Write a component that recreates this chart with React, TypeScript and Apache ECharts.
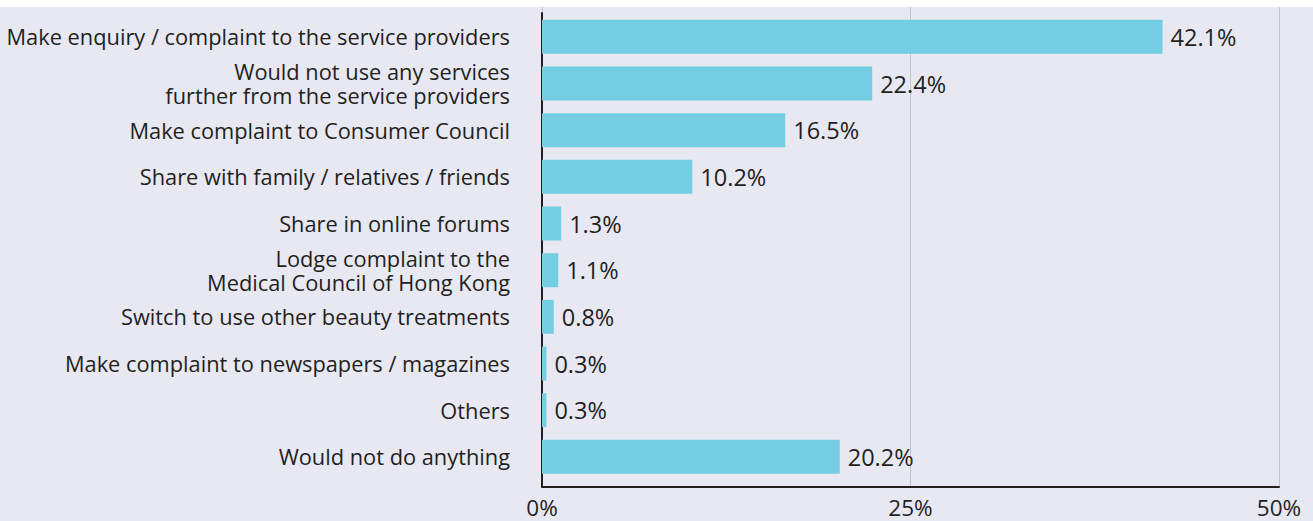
import React, { useEffect, useRef } from "react";
import * as echarts from "echarts";

const categories = [
  "Make enquiry / complaint to the service providers",
  "Would not use any services\nfurther from the service providers",
  "Make complaint to Consumer Council",
  "Share with family / relatives / friends",
  "Share in online forums",
  "Lodge complaint to the\nMedical Council of Hong Kong",
  "Switch to use other beauty treatments",
  "Make complaint to newspapers / magazines",
  "Others",
  "Would not do anything",
];
const values = [42.1, 22.4, 16.5, 10.2, 1.3, 1.1, 0.8, 0.3, 0.3, 20.2];
const tickValues = [0, 25, 50];

const FONT = "Open Sans";
const TEXT = "#231f20";
const BAR = "#73cee1";
const BG = "#e8e8f3";

export default function App() {
  const ref = useRef<HTMLDivElement>(null);
  useEffect(() => {
    document.body.style.margin = "0";
    const chart = echarts.init(ref.current!, undefined, { renderer: "svg" });
    chart.setOption({
      animation: false,
      backgroundColor: "transparent",
      grid: [
        { left: 542, right: 34, top: 13.5, bottom: 40.8 },
        { left: 542, right: 34, top: 13, bottom: 34.3 },
        { left: 542, right: 34, top: 7, bottom: 34.3 },
      ],
      xAxis: [
        {
          gridIndex: 0,
          type: "value",
          min: tickValues[0],
          max: tickValues[tickValues.length - 1],
          show: false,
        },
        {
          gridIndex: 1,
          type: "value",
          min: tickValues[0],
          max: tickValues[tickValues.length - 1],
          interval: 25,
          axisLine: { show: true, lineStyle: { color: TEXT, width: 2 } },
          axisTick: { show: false },
          splitLine: { show: false },
          axisLabel: {
            formatter: (v: number) => v + "%",
            fontFamily: FONT,
            fontSize: 22.5,
            lineHeight: 22,
            color: TEXT,
            margin: 10,
          },
        },
        {
          gridIndex: 2,
          type: "value",
          min: tickValues[0],
          max: tickValues[tickValues.length - 1],
          interval: 25,
          axisLine: { show: false },
          axisTick: { show: false },
          axisLabel: { show: false },
          splitLine: { show: true, lineStyle: { color: "#c4c4cc", width: 1 } },
        },
      ],
      yAxis: [
        {
          gridIndex: 0,
          type: "category",
          inverse: true,
          data: categories,
          axisLine: { show: false },
          axisTick: { show: false },
          axisLabel: {
            fontFamily: FONT,
            fontSize: 21.8,
            color: TEXT,
            margin: 32,
            lineHeight: 24,
            align: "right",
          },
        },
        {
          gridIndex: 1,
          type: "value",
          axisLine: { show: true, lineStyle: { color: TEXT, width: 2 } },
          axisTick: { show: false },
          axisLabel: { show: false },
          splitLine: { show: false },
        },
        {
          gridIndex: 2,
          type: "value",
          show: false,
          splitLine: { show: false },
        },
      ],
      series: [
        {
          type: "bar",
          xAxisIndex: 0,
          yAxisIndex: 0,
          data: values,
          barWidth: 34,
          z: 5,
          itemStyle: { color: BAR },
          label: {
            show: true,
            position: "right",
            distance: 8,
            formatter: (p: any) => p.value.toFixed(1) + "%",
            fontFamily: FONT,
            fontSize: 23.5,
            color: TEXT,
          },
        },
      ],
    });
    return () => chart.dispose();
  }, []);
  return (
    <div
      ref={ref}
      style={{
        width: 1313,
        height: 521,
        background: `linear-gradient(#ffffff 0px, #ffffff 7px, ${BG} 7px, ${BG} 100%)`,
      }}
    />
  );
}
